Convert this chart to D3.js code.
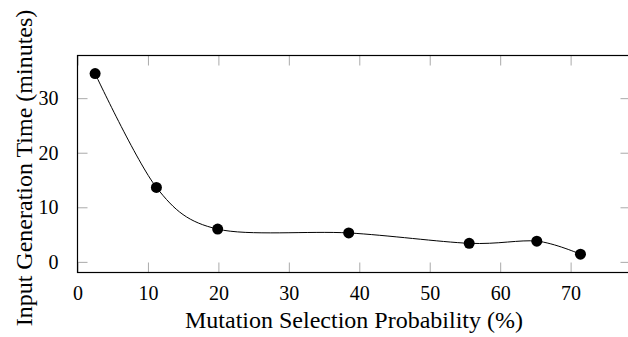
<!DOCTYPE html>
<html>
<head>
<meta charset="utf-8">
<script src="https://cdn.jsdelivr.net/npm/d3@7"></script>
<style>
body { margin: 0; background: #fff; }
svg { display: block; }
</style>
</head>
<body>
<svg width="628" height="337"></svg>
<script>
var probability = [2.5, 11.2, 19.9, 38.5, 55.6, 65.2, 71.4];
var minutes = [34.5, 13.65, 6.0, 5.3, 3.4, 3.8, 1.4];
var xTicks = [0, 10, 20, 30, 40, 50, 60, 70];
var yTicks = [0, 10, 20, 30];

var serif = "'Liberation Serif', 'DejaVu Serif', serif";

var svg = d3.select("svg"),
    margin = {top: 55.5, right: -2.5, bottom: 64.5, left: 77.5},
    width = +svg.attr("width") - margin.left - margin.right,
    height = +svg.attr("height") - margin.top - margin.bottom,
    g = svg.append("g").attr("transform", "translate(" + margin.left + "," + margin.top + ")");

var x = d3.scaleLinear().domain([0, 78.5]).range([0, width]),
    y = d3.scaleLinear().domain([-1.95, 37.82]).range([height, 0]);

var data = probability.map(function(p, i) { return {p: p, t: minutes[i]}; });

var tickLen = 10;

function style(a) {
  a.attr("font-family", serif).attr("font-size", 20);
  a.select(".domain").remove();
  a.selectAll("line").attr("stroke", "#aaa");
  a.selectAll("text").attr("fill", "#000");
}

// bottom axis with labels, ticks pointing inward
g.append("g")
    .attr("transform", "translate(0," + height + ")")
    .call(d3.axisBottom(x).tickValues(xTicks).tickSizeInner(-tickLen).tickSizeOuter(0).tickPadding(13).tickFormat(d3.format("d")))
    .call(style);

// top ticks
g.append("g")
    .call(d3.axisTop(x).tickValues(xTicks).tickSizeInner(-tickLen).tickSizeOuter(0).tickFormat(""))
    .call(style);

// left axis
g.append("g")
    .call(d3.axisLeft(y).tickValues(yTicks).tickSizeInner(-tickLen).tickSizeOuter(0).tickPadding(19).tickFormat(d3.format("d")))
    .call(style);

// right ticks
g.append("g")
    .attr("transform", "translate(" + width + ",0)")
    .call(d3.axisRight(y).tickValues(yTicks).tickSizeInner(-tickLen).tickSizeOuter(0).tickFormat(""))
    .call(style);

// frame
g.append("rect")
    .attr("width", width)
    .attr("height", height)
    .attr("fill", "none")
    .attr("stroke", "#000")
    .attr("stroke-width", 1.2);

var line = d3.line()
    .curve(d3.curveCardinal.tension(0.08))
    .x(function(d) { return x(d.p); })
    .y(function(d) { return y(d.t); });

g.append("path")
    .datum(data)
    .attr("fill", "none")
    .attr("stroke", "#000")
    .attr("stroke-width", 1)
    .attr("d", line);

g.selectAll(".dot")
    .data(data)
    .enter().append("circle")
    .attr("class", "dot")
    .attr("cx", function(d) { return x(d.p); })
    .attr("cy", function(d) { return y(d.t); })
    .attr("r", 5.5)
    .attr("fill", "#000");

svg.append("text")
    .attr("font-family", serif)
    .attr("font-size", 24)
    .attr("x", margin.left + width / 2)
    .attr("y", 328)
    .attr("text-anchor", "middle")
    .text("Mutation Selection Probability (%)");

svg.append("text")
    .attr("font-family", serif)
    .attr("font-size", 24)
    .attr("transform", "translate(31.5," + (margin.top + height / 2 + 4) + ") rotate(-90)")
    .attr("text-anchor", "middle")
    .text("Input Generation Time (minutes)");
</script>
</body>
</html>
